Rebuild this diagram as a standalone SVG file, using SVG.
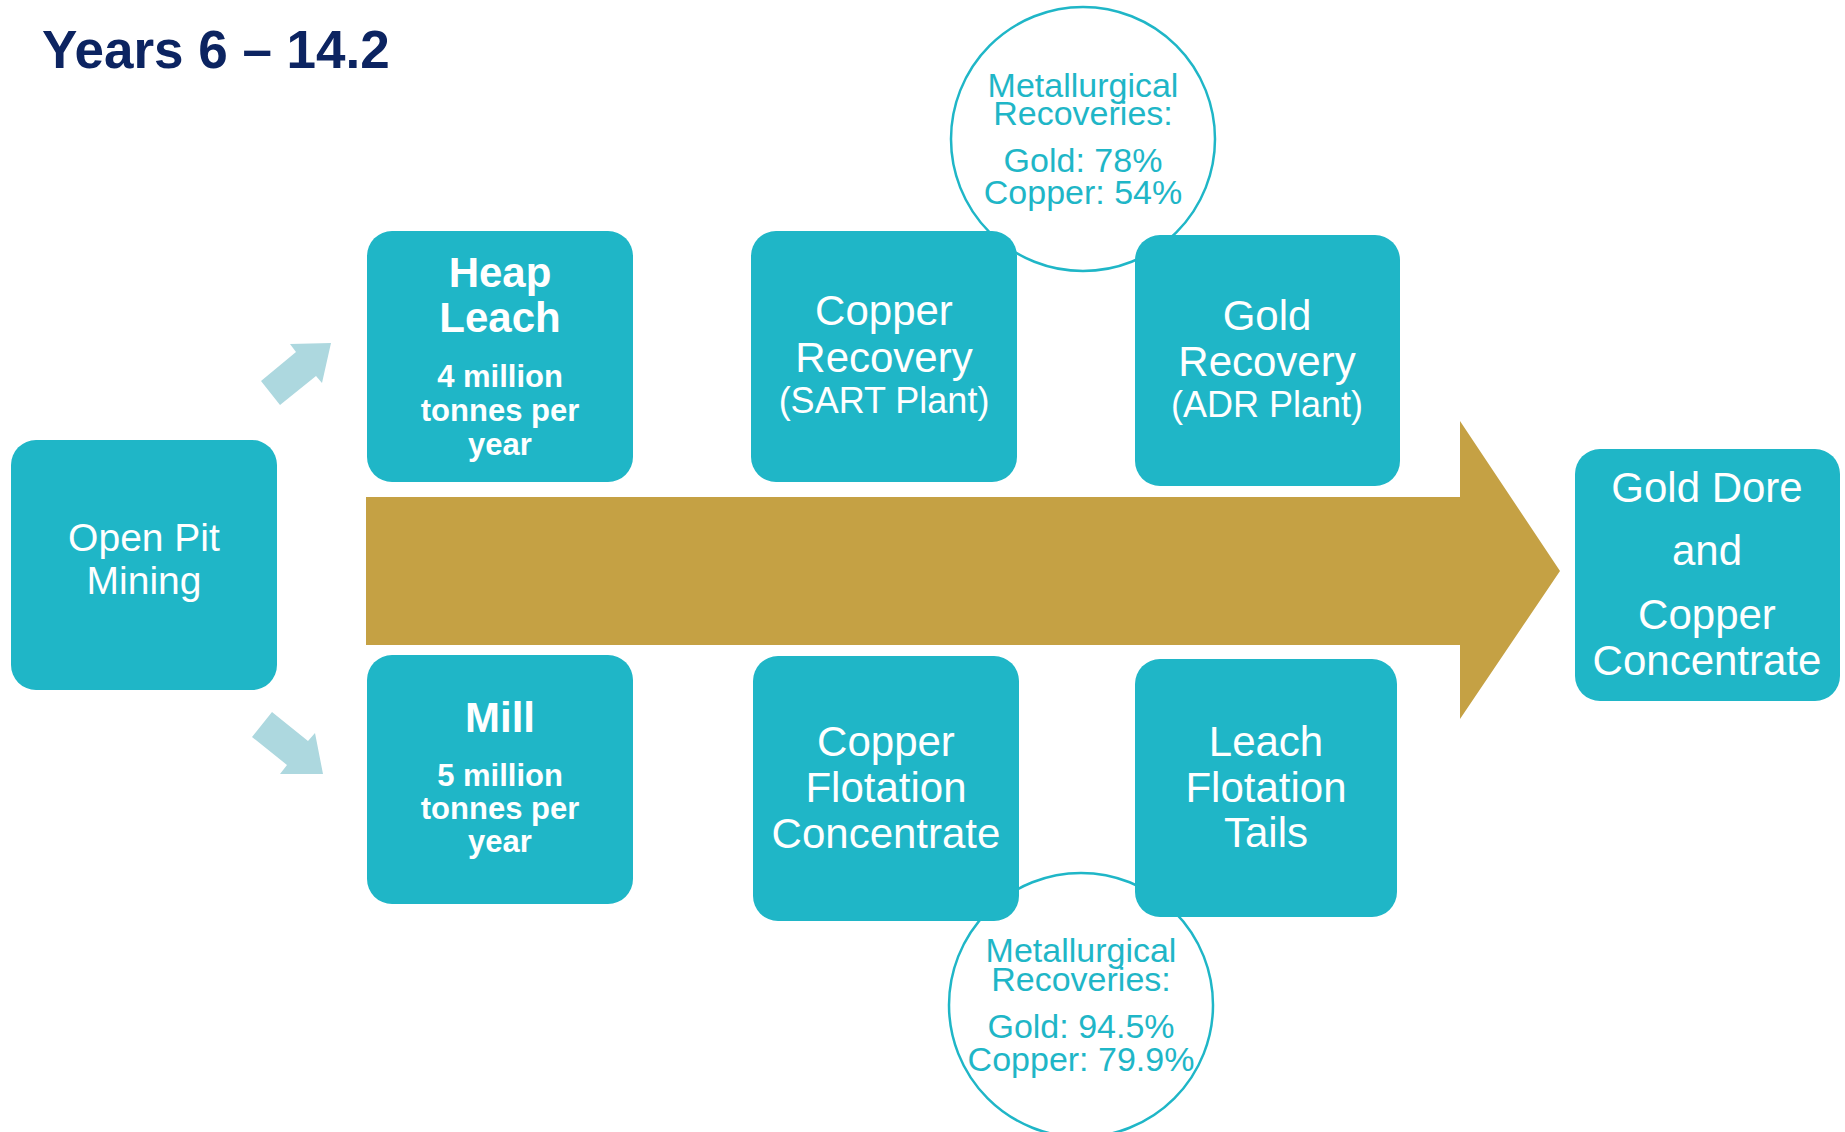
<svg xmlns="http://www.w3.org/2000/svg" width="1845" height="1132" viewBox="0 0 1845 1132">
<style>
.box{fill:#1fb6c7}
.t{font-family:"Liberation Sans",Arial,sans-serif;fill:#ffffff;text-anchor:middle}
.c{font-family:"Liberation Sans",Arial,sans-serif;fill:#1fb6c7;text-anchor:middle;font-size:34px}
.ring{fill:#ffffff;stroke:#1fb6c7;stroke-width:2.5}
.small{fill:#add8df}
</style>
<rect width="1845" height="1132" fill="#ffffff"/>
<text x="42" y="68" font-family="Liberation Sans, Arial, sans-serif" font-weight="bold" font-size="53" fill="#0c2461">Years 6 – 14.2</text>

<g id="circle-top">
<circle class="ring" cx="1083" cy="139" r="132"/>
<text class="c" x="1083" y="97">Metallurgical</text>
<text class="c" x="1083" y="125">Recoveries:</text>
<text class="c" x="1083" y="172">Gold: 78%</text>
<text class="c" x="1083" y="204">Copper: 54%</text>
</g>
<g id="circle-bottom">
<circle class="ring" cx="1081" cy="1005" r="132"/>
<text class="c" x="1081" y="962">Metallurgical</text>
<text class="c" x="1081" y="991">Recoveries:</text>
<text class="c" x="1081" y="1038">Gold: 94.5%</text>
<text class="c" x="1081" y="1071">Copper: 79.9%</text>
</g>

<g id="connectors">
<polygon id="big-arrow" fill="#c5a144" points="366,497 1460,497 1460,421 1560,571 1460,719 1460,645 366,645"/>
<polygon class="small" points="261,381 280,405 316,376 322,383 331,343 290,344 296,352"/>
<polygon class="small" points="272,712 252,737 287,765 280,774 323,774 315,733 308,741"/>
</g>

<g id="open-pit">
<rect class="box" x="11" y="440" width="266" height="250" rx="25"/>
<text class="t" font-size="39" x="144" y="551">Open Pit</text>
<text class="t" font-size="39" x="144" y="594">Mining</text>
</g>
<g id="heap-leach">
<rect class="box" x="367" y="231" width="266" height="251" rx="25"/>
<text class="t" font-size="42" font-weight="bold" x="500" y="287">Heap</text>
<text class="t" font-size="42" font-weight="bold" x="500" y="332">Leach</text>
<text class="t" font-size="31" font-weight="bold" x="500" y="387">4 million</text>
<text class="t" font-size="31" font-weight="bold" x="500" y="421">tonnes per</text>
<text class="t" font-size="31" font-weight="bold" x="500" y="455">year</text>
</g>
<g id="mill">
<rect class="box" x="367" y="655" width="266" height="249" rx="25"/>
<text class="t" font-size="42" font-weight="bold" x="500" y="732">Mill</text>
<text class="t" font-size="31" font-weight="bold" x="500" y="786">5 million</text>
<text class="t" font-size="31" font-weight="bold" x="500" y="819">tonnes per</text>
<text class="t" font-size="31" font-weight="bold" x="500" y="852">year</text>
</g>
<g id="copper-recovery">
<rect class="box" x="751" y="231" width="266" height="251" rx="25"/>
<text class="t" font-size="42" x="884" y="325">Copper</text>
<text class="t" font-size="42" x="884" y="372">Recovery</text>
<text class="t" font-size="36" x="884" y="413">(SART Plant)</text>
</g>
<g id="gold-recovery">
<rect class="box" x="1135" y="235" width="265" height="251" rx="25"/>
<text class="t" font-size="42" x="1267" y="330">Gold</text>
<text class="t" font-size="42" x="1267" y="376">Recovery</text>
<text class="t" font-size="36" x="1267" y="417">(ADR Plant)</text>
</g>
<g id="copper-flotation">
<rect class="box" x="753" y="656" width="266" height="265" rx="25"/>
<text class="t" font-size="42" x="886" y="756">Copper</text>
<text class="t" font-size="42" x="886" y="802">Flotation</text>
<text class="t" font-size="42" x="886" y="848">Concentrate</text>
</g>
<g id="leach-tails">
<rect class="box" x="1135" y="659" width="262" height="258" rx="25"/>
<text class="t" font-size="42" x="1266" y="756">Leach</text>
<text class="t" font-size="42" x="1266" y="802">Flotation</text>
<text class="t" font-size="42" x="1266" y="847">Tails</text>
</g>
<g id="gold-dore">
<rect class="box" x="1575" y="449" width="265" height="252" rx="25"/>
<text class="t" font-size="42" x="1707" y="502">Gold Dore</text>
<text class="t" font-size="42" x="1707" y="565">and</text>
<text class="t" font-size="42" x="1707" y="629">Copper</text>
<text class="t" font-size="42" x="1707" y="675">Concentrate</text>
</g>
</svg>
